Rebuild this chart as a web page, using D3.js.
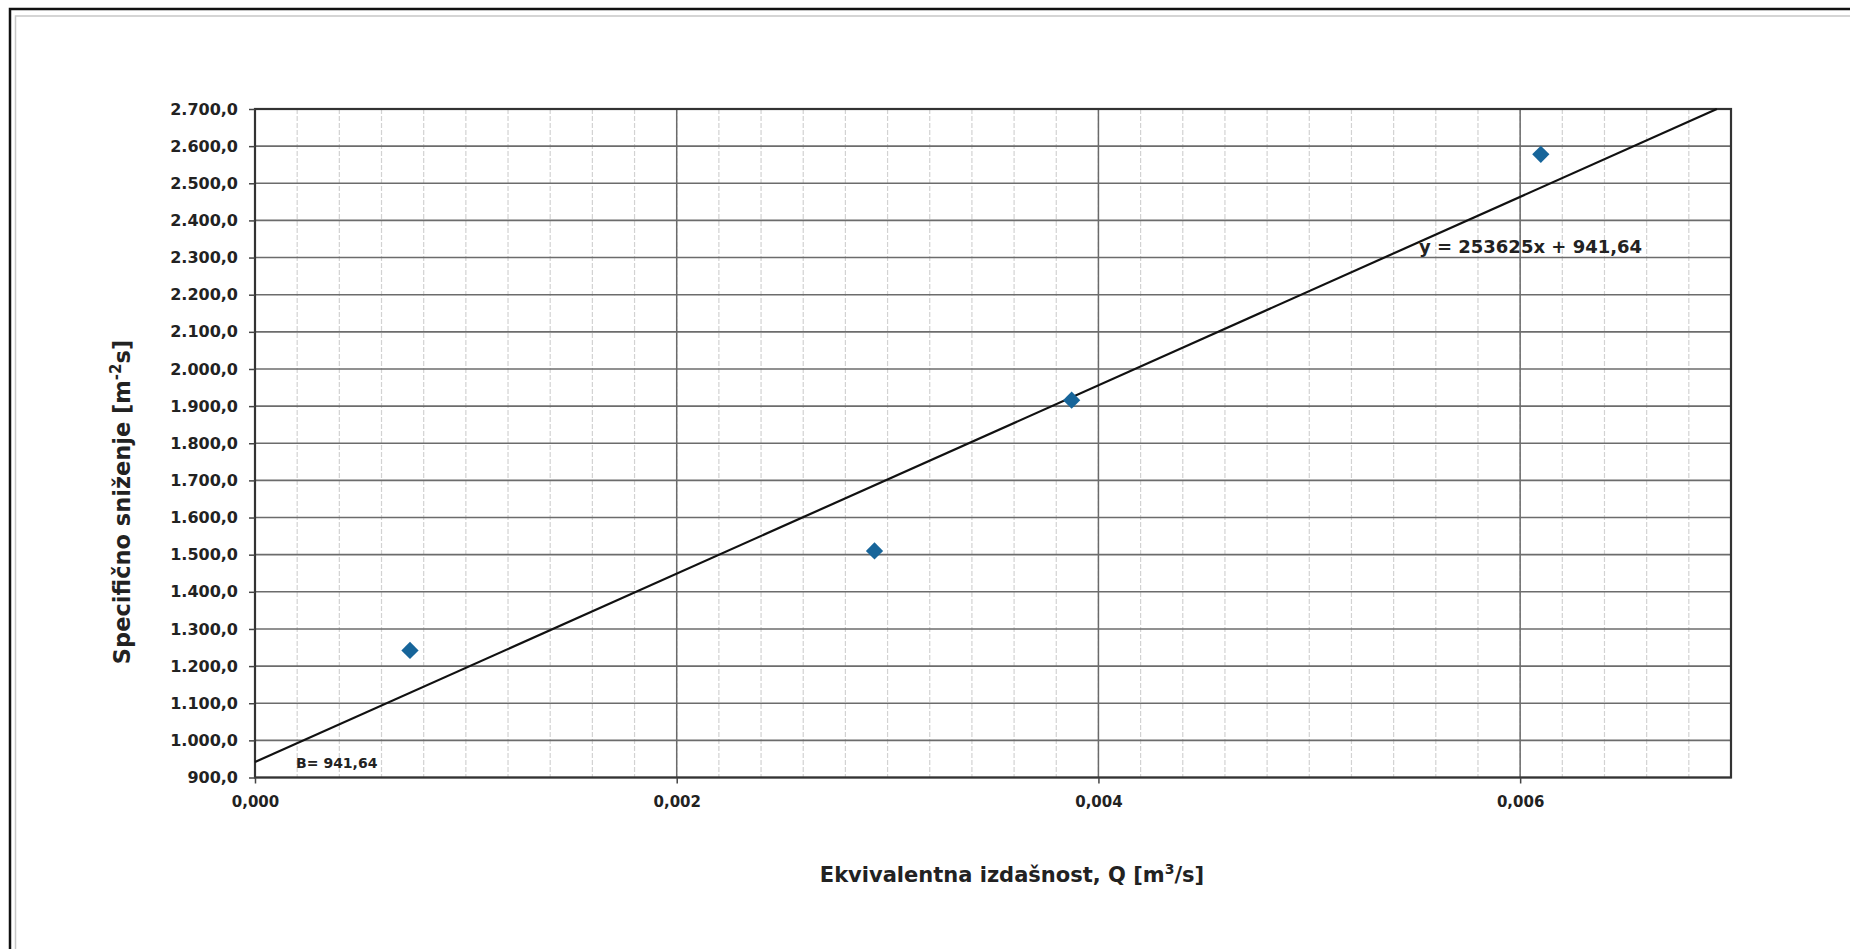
<!DOCTYPE html>
<html>
<head>
<meta charset="utf-8">
<script src="https://cdnjs.cloudflare.com/ajax/libs/d3/7.8.5/d3.min.js"></script>
<style>
  body { margin: 0; background: #fff; }
  svg { display: block; }
  .tick text { font-family: "DejaVu Sans", sans-serif; font-weight: bold; fill: #222; }
</style>
</head>
<body>
<svg id="chart"></svg>
<script>
// measured points: equivalent yield Q [m3/s] vs specific drawdown
var qValues = [0.000735, 0.002938, 0.003873, 0.006098];
var sValues = [1242, 1510, 1916, 2578];

// linear trend as printed on the chart
var trendSlope = 253625;
var trendIntercept = 941.64;

var xDomain = [0, 0.007];
var yDomain = [900, 2700];
var xTicks = [0, 0.002, 0.004, 0.006];
var xMinorTicks = d3.range(0, 0.00701, 0.0002);
var yTicks = d3.range(900, 2701, 100);

var totalWidth = 1850;
var totalHeight = 949;
var margin = { top: 109, right: 119, bottom: 171.5, left: 255 };
var width = totalWidth - margin.left - margin.right;
var height = totalHeight - margin.top - margin.bottom;

var locale = d3.formatLocale({ decimal: ",", thousands: ".", grouping: [3], currency: ["", ""] });
var fmtY = locale.format(",.1f");
var fmtX = locale.format(".3f");

var svg = d3.select("#chart")
    .attr("width", totalWidth)
    .attr("height", totalHeight);

// scanned page frame
svg.append("rect")
    .attr("x", 10).attr("y", 9)
    .attr("width", 1870).attr("height", 980)
    .attr("fill", "none").attr("stroke", "#111").attr("stroke-width", 2.5);
svg.append("rect")
    .attr("x", 15.5).attr("y", 16)
    .attr("width", 1860).attr("height", 970)
    .attr("fill", "none").attr("stroke", "#c8c8c8").attr("stroke-width", 1.5);

var x = d3.scaleLinear().domain(xDomain).range([0, width]);
var y = d3.scaleLinear().domain(yDomain).range([height, 0]);

var g = svg.append("g")
    .attr("transform", "translate(" + margin.left + "," + margin.top + ")");

// minor vertical grid
g.selectAll(".vminor")
    .data(xMinorTicks)
    .enter()
    .append("line")
    .attr("class", "vminor")
    .attr("x1", function (d) { return x(d) })
    .attr("x2", function (d) { return x(d) })
    .attr("y1", 0)
    .attr("y2", height)
    .attr("stroke", "#d2d2d2")
    .attr("stroke-width", 1.2)
    .attr("stroke-dasharray", "5,2");

// major vertical grid
g.selectAll(".vmajor")
    .data(xTicks)
    .enter()
    .append("line")
    .attr("class", "vmajor")
    .attr("x1", function (d) { return x(d) })
    .attr("x2", function (d) { return x(d) })
    .attr("y1", 0)
    .attr("y2", height)
    .attr("stroke", "#6a6a6a")
    .attr("stroke-width", 1.5);

// horizontal grid
g.selectAll(".hgrid")
    .data(yTicks)
    .enter()
    .append("line")
    .attr("class", "hgrid")
    .attr("x1", 0)
    .attr("x2", width)
    .attr("y1", function (d) { return y(d) })
    .attr("y2", function (d) { return y(d) })
    .attr("stroke", "#6c6c6c")
    .attr("stroke-width", 1.6);

// plot border
g.append("rect")
    .attr("width", width)
    .attr("height", height)
    .attr("fill", "none")
    .attr("stroke", "#333")
    .attr("stroke-width", 2.2);

// axes
var yAxis = g.append("g")
    .call(d3.axisLeft(y).tickValues(yTicks).tickSize(6).tickPadding(11).tickFormat(fmtY));
yAxis.select(".domain").remove();
yAxis.selectAll("line").attr("stroke", "#444").attr("stroke-width", 1.5);
yAxis.selectAll("text").style("font-size", "16px");

var xAxis = g.append("g")
    .attr("transform", "translate(0," + height + ")")
    .call(d3.axisBottom(x).tickValues(xTicks).tickSize(6).tickPadding(13).tickFormat(fmtX));
xAxis.select(".domain").remove();
xAxis.selectAll("line").attr("stroke", "#444").attr("stroke-width", 1.5);
xAxis.selectAll("text").style("font-size", "15px");

// trend line, clipped at the top of the plot
var xEnd = Math.min(xDomain[1], (yDomain[1] - trendIntercept) / trendSlope);
g.append("line")
    .attr("x1", x(0))
    .attr("y1", y(trendIntercept))
    .attr("x2", x(xEnd))
    .attr("y2", y(trendSlope * xEnd + trendIntercept))
    .attr("stroke", "#111")
    .attr("stroke-width", 2.2);

// points
g.selectAll(".pt")
    .data(qValues)
    .enter()
    .append("path")
    .attr("class", "pt")
    .attr("d", d3.symbol().type(d3.symbolDiamond2).size(190))
    .attr("transform", function (d, i) { return "translate(" + x(d) + "," + y(sValues[i]) + ")" })
    .attr("fill", "#17659a");

// labels
g.append("text")
    .attr("x", x(0.00552))
    .attr("y", y(2312))
    .attr("font-family", "DejaVu Sans, sans-serif")
    .attr("font-weight", "bold")
    .attr("font-size", "18px")
    .attr("fill", "#222")
    .text("y = 253625x + 941,64");

g.append("text")
    .attr("x", x(0.000195))
    .attr("y", y(925))
    .attr("font-family", "DejaVu Sans, sans-serif")
    .attr("font-weight", "bold")
    .attr("font-size", "14px")
    .attr("fill", "#222")
    .text("B= 941,64");

// axis titles
var yTitle = svg.append("text")
    .attr("transform", "translate(130,502) rotate(-90)")
    .attr("text-anchor", "middle")
    .attr("font-family", "DejaVu Sans, sans-serif")
    .attr("font-weight", "bold")
    .attr("font-size", "22.5px")
    .attr("fill", "#222");
yTitle.append("tspan").text("Specifično sniženje [m");
yTitle.append("tspan").attr("dy", -9).attr("font-size", "15px").text("-2");
yTitle.append("tspan").attr("dy", 9).text("s]");

var xTitle = svg.append("text")
    .attr("x", 1012)
    .attr("y", 882)
    .attr("text-anchor", "middle")
    .attr("font-family", "DejaVu Sans, sans-serif")
    .attr("font-weight", "bold")
    .attr("font-size", "21px")
    .attr("fill", "#222");
xTitle.append("tspan").text("Ekvivalentna izdašnost, Q [m");
xTitle.append("tspan").attr("dy", -8).attr("font-size", "14px").text("3");
xTitle.append("tspan").attr("dy", 8).text("/s]");
</script>
</body>
</html>
